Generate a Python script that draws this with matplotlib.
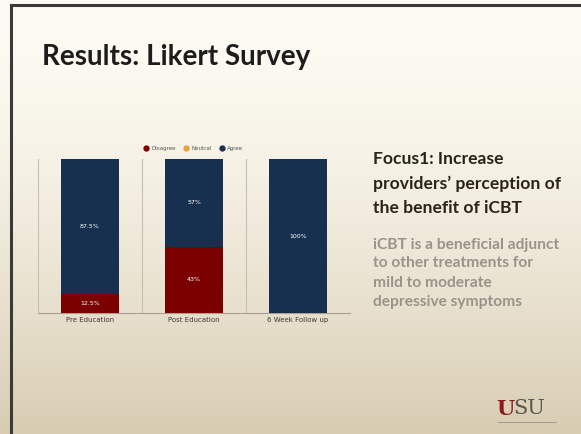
import numpy as np
import matplotlib.pyplot as plt
from matplotlib.lines import Line2D

categories = ['Pre Education', 'Post Education', '6 Week Follow up']
disagree = [12.5, 43, 0]
neutral = [0, 0, 0]
agree = [87.5, 57, 100]
disagree_labels = ['12.5%', '43%', '']
agree_labels = ['87.5%', '57%', '100%']
series_names = ['Disagree', 'Neutral', 'Agree']
series_colors = ['#7b0000', '#e8a23a', '#17304f']

W, H = 581, 434
fig = plt.figure(figsize=(W / 100, H / 100), dpi=100)

# slide background gradient
bg = fig.add_axes([0, 0, 1, 1])
grad = np.linspace(0, 1, 256).reshape(-1, 1)
top = np.array([0xFD, 0xFB, 0xF3]) / 255
bot = np.array([0xD8, 0xCC, 0xB2]) / 255
g = grad ** 1.6
img = top[None, None, :] * (1 - g[:, :, None]) + bot[None, None, :] * g[:, :, None]
bg.imshow(img, aspect='auto', extent=[0, W, H, 0])
bg.set_xlim(0, W)
bg.set_ylim(H, 0)
bg.axis('off')
# frame (left and top edges)
bg.plot([11, 11], [4.5, H], color='#3a3a3a', lw=2.2)
bg.plot([11, W], [4.5, 4.5], color='#3a3a3a', lw=2.2)

bg.text(42, 57, 'Results: Likert Survey', fontsize=20, family='Lato',
        fontweight='bold', color='#1c1c1c', va='center', ha='left')

focus = ['Focus1: Increase', "providers\u2019 perception of", 'the benefit of iCBT']
for i, line in enumerate(focus):
    bg.text(373, 159 + i * 24.5, line, fontsize=12.6, family='Lato',
            fontweight='bold', color='#2a2418', va='center', ha='left')
desc = ['iCBT is a beneficial adjunct', 'to other treatments for',
        'mild to moderate', 'depressive symptoms']
desc_y = [245, 263, 283, 302]
for line, yy in zip(desc, desc_y):
    bg.text(373, yy, line, fontsize=11.2, family='Lato', fontweight='bold',
            color='#99938b', va='center', ha='left')

# logo
bg.text(496, 409, 'U', fontsize=15, family='DejaVu Serif', fontweight='bold',
        color='#8b1a1a', va='center', ha='left')
bg.text(513, 409, 'SU', fontsize=15, family='DejaVu Serif',
        color='#55554c', va='center', ha='left')
bg.plot([498, 556], [422, 422], color='#9a9488', lw=0.6)

# chart
ax = fig.add_axes([38 / W, 1 - 313 / H, 312 / W, 154 / H])
ax.patch.set_alpha(0)
x = np.arange(len(categories))
bw = 0.56
ax.bar(x, disagree, bw, color=series_colors[0], zorder=3)
ax.bar(x, neutral, bw, bottom=disagree, color=series_colors[1], zorder=3)
bottoms = np.array(disagree) + np.array(neutral)
ax.bar(x, agree, bw, bottom=bottoms, color=series_colors[2], zorder=3)

for i in range(len(categories)):
    if disagree_labels[i]:
        ax.text(x[i], disagree[i] / 2, disagree_labels[i], color='white',
                fontsize=4.5, ha='center', va='center', zorder=4)
    ax.text(x[i], bottoms[i] + agree[i] / 2, agree_labels[i], color='white',
            fontsize=4.5, ha='center', va='center', zorder=4)

ax.set_xlim(-0.5, len(categories) - 0.5)
ax.set_ylim(0, 100)
for b in [-0.5, 0.5, 1.5]:
    ax.axvline(b, color='#c8c0ae', lw=0.8, zorder=1)
ax.set_yticks([])
ax.set_xticks(x)
ax.set_xticklabels(categories, fontsize=5, color='#3a3a3a')
ax.tick_params(axis='x', length=0, pad=3)
for s in ['top', 'right', 'left']:
    ax.spines[s].set_visible(False)
ax.spines['bottom'].set_color('#a8a090')
ax.spines['bottom'].set_linewidth(0.8)

handles = [Line2D([], [], marker='o', ls='', color=c, markersize=3.5)
           for c in series_colors]
ax.legend(handles, series_names, loc='lower center', bbox_to_anchor=(0.5, 1.02),
          ncol=3, frameon=False, fontsize=4, handlelength=0.6,
          columnspacing=1.6, handletextpad=0.6, labelcolor='#555555')

fig.savefig('out.png', dpi=100)
